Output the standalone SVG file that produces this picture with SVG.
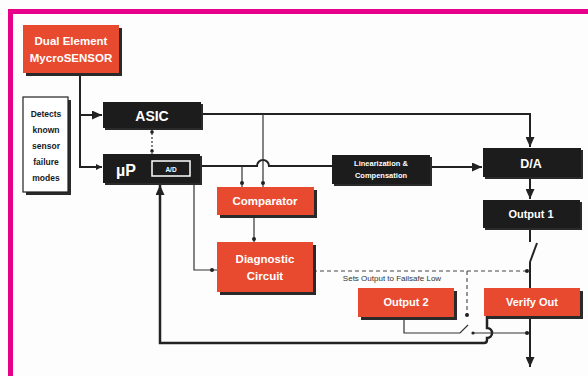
<svg xmlns="http://www.w3.org/2000/svg" width="588" height="376" viewBox="0 0 588 376">
<defs>
<style>
.red{fill:#E84A2F}
.blk{fill:#1c1c1c}
.sh{fill:#2a2a2a}
.t{font-family:"Liberation Sans",Arial,sans-serif;font-weight:bold;text-anchor:middle;fill:#fff}
.k{fill:#1a1a1a}
.ln{fill:none;stroke:#222;stroke-width:2}
.th{fill:none;stroke:#333;stroke-width:1.2}
.fb{fill:none;stroke:#222;stroke-width:2.5}
.ds{fill:none;stroke:#444;stroke-width:1.1;stroke-dasharray:4,3}
.dot{fill:#222}
</style>
<marker id="a" markerWidth="10" markerHeight="9" refX="10" refY="4.5" orient="auto" markerUnits="userSpaceOnUse"><path d="M0,0 L10,4.5 L0,9 z" fill="#222"/></marker>
<marker id="as" markerWidth="6" markerHeight="6" refX="6" refY="3" orient="auto" markerUnits="userSpaceOnUse"><path d="M0,0 L6,3 L0,6 z" fill="#222"/></marker>
</defs>
<rect x="0" y="0" width="588" height="376" fill="#fdfdfd"/>
<rect x="10.5" y="11.5" width="620" height="420" fill="none" stroke="#E6008A" stroke-width="5"/>

<g id="connectors">
<path class="ln" d="M80,73 V167 H102" marker-end="url(#as)"/>
<path class="ln" d="M80,115 H102" marker-end="url(#a)"/>
<line x1="152" y1="129" x2="152" y2="154" stroke="#333" stroke-width="1.2" stroke-dasharray="2,2"/>
<circle class="dot" cx="152" cy="132" r="1.8"/>
<circle class="dot" cx="152" cy="151" r="1.8"/>
<path class="ln" d="M201,114 H530 V147" marker-end="url(#a)"/>
<path class="ln" d="M200,166 H257 a6,6 0 0 1 12,0 H332"/>
<path class="ln" d="M430,167 H482" marker-end="url(#a)"/>
<path class="ln" d="M530,177 V199" marker-end="url(#a)"/>
<path class="th" d="M242,166 V187"/>
<circle class="dot" cx="242" cy="183" r="2"/>
<path class="th" d="M263,114 V187"/>
<circle class="dot" cx="263" cy="183" r="2"/>
<path class="th" d="M254,215 V242"/>
<circle class="dot" cx="254" cy="239" r="2"/>
<path class="th" d="M194,183 V270 H217"/>
<circle class="dot" cx="212" cy="270" r="2"/>
<path class="fb" d="M487,316 V328 a5,5 0 0 1 0,10 V340 q0,3 -3,3 H160 V185" marker-end="url(#a)"/>
<path class="ds" d="M313,271 H527"/>
<circle class="dot" cx="527" cy="271" r="2"/>
<path class="ds" d="M467,271 V314"/>
<circle class="dot" cx="467" cy="315" r="2"/>
<path class="th" d="M404,317 V333 H460 L468,325"/>
<path class="th" d="M473,333 H530"/>
<circle class="dot" cx="473" cy="333" r="1.6"/>
<circle class="dot" cx="527" cy="333" r="2"/>
<path class="ln" d="M530,228 V242"/>
<path class="ln" d="M530,262 L537,243"/>
<path class="ln" d="M530,262 V288"/>
<path class="ln" d="M530,316 V367" marker-end="url(#a)"/>
</g>

<g id="sensor">
<rect class="sh" x="26" y="28" width="96" height="48"/>
<rect class="red" x="23" y="25" width="96" height="48"/>
<text class="t" x="71" y="45" font-size="11.5">Dual Element</text>
<text class="t" x="71" y="62" font-size="11.5">MycroSENSOR</text>
</g>

<g id="detects">
<rect class="sh" x="26" y="100" width="45" height="95"/>
<rect x="23" y="97" width="45" height="95" fill="#fff" stroke="#222" stroke-width="1.2"/>
<text class="t k" x="46" y="117" font-size="8.5">Detects</text>
<text class="t k" x="46" y="133" font-size="8.5">known</text>
<text class="t k" x="46" y="149" font-size="8.5">sensor</text>
<text class="t k" x="46" y="165" font-size="8.5">failure</text>
<text class="t k" x="46" y="181" font-size="8.5">modes</text>
</g>

<g id="asic">
<rect class="sh" x="105" y="104" width="98" height="26"/>
<rect class="blk" x="103" y="102" width="98" height="26"/>
<text class="t" x="152" y="121" font-size="14">ASIC</text>
</g>

<g id="up">
<rect class="sh" x="105" y="156" width="97" height="29"/>
<rect class="blk" x="103" y="154" width="97" height="29"/>
<text class="t" x="126" y="176" font-size="16">µP</text>
<rect x="152" y="161" width="38" height="15" fill="none" stroke="#fff" stroke-width="1.5"/>
<text class="t" x="171" y="171.5" font-size="6.5">A/D</text>
</g>

<g id="linearization">
<rect class="sh" x="334" y="157" width="98" height="29"/>
<rect class="blk" x="332" y="155" width="98" height="29"/>
<text class="t" x="381" y="166" font-size="7.5">Linearization &amp;</text>
<text class="t" x="381" y="178" font-size="7.5">Compensation</text>
</g>

<g id="da">
<rect class="sh" x="485" y="150" width="98" height="29"/>
<rect class="blk" x="483" y="148" width="98" height="29"/>
<text class="t" x="531" y="168" font-size="12.5">D/A</text>
</g>

<g id="output1">
<rect class="sh" x="485" y="202" width="97" height="28"/>
<rect class="blk" x="483" y="200" width="97" height="28"/>
<text class="t" x="531" y="218" font-size="11">Output 1</text>
</g>

<g id="comparator">
<rect class="sh" x="220" y="190" width="97" height="28"/>
<rect class="red" x="217" y="187" width="97" height="28"/>
<text class="t" x="265" y="205" font-size="11.5">Comparator</text>
</g>

<g id="diagnostic">
<rect class="sh" x="220" y="245" width="96" height="50"/>
<rect class="red" x="217" y="242" width="96" height="50"/>
<text class="t" x="265" y="263" font-size="11.5">Diagnostic</text>
<text class="t" x="265" y="280" font-size="11.5">Circuit</text>
</g>

<text x="392" y="281" font-family="Liberation Sans, Arial, sans-serif" font-size="8" fill="#333" text-anchor="middle">Sets Output to Failsafe Low</text>

<g id="output2">
<rect class="sh" x="361" y="291" width="96" height="29"/>
<rect class="red" x="358" y="288" width="96" height="29"/>
<text class="t" x="406" y="306" font-size="11">Output 2</text>
</g>

<g id="verify">
<rect class="sh" x="487" y="291" width="96" height="28"/>
<rect class="red" x="484" y="288" width="96" height="28"/>
<text class="t" x="532" y="306" font-size="11">Verify Out</text>
</g>
</svg>
